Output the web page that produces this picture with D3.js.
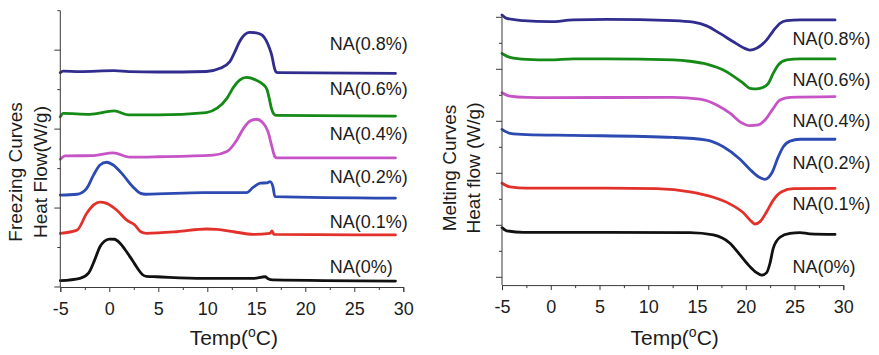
<!DOCTYPE html>
<html>
<head>
<meta charset="utf-8">
<script src="https://cdn.jsdelivr.net/npm/d3@7"></script>
<style>
  html, body { margin: 0; padding: 0; background: #fff; }
  svg { display: block; font-family: "Liberation Sans", Arial, Helvetica, sans-serif; }
</style>
</head>
<body>
<div id="chart"></div>
<script>
// DSC curves: [temperature °C, heat flow (arbitrary offset units)]
var seriesNames = ["NA(0.8%)", "NA(0.6%)", "NA(0.4%)", "NA(0.2%)", "NA(0.1%)", "NA(0%)"];
var seriesColors = ["#312d8f", "#158a17", "#c654c6", "#2c4ab2", "#e2312a", "#111111"];

var xTicksMajor = [-5, 0, 5, 10, 15, 20, 25, 30];
var xTicksMinor = [-2.5, 2.5, 7.5, 12.5, 17.5, 22.5, 27.5];

// Freezing curves (left)
var freezeNA08 = [[-5, 5.43], [-4.7, 5.47], [-3, 5.455], [0.5, 5.48], [2, 5.455], [5, 5.447], [9.9, 5.46],
  [11.3, 5.54], [12.3, 5.71], [12.8, 5.95], [13.3, 6.22], [13.8, 6.39], [14.3, 6.45], [15, 6.44],
  [15.6, 6.38], [16, 6.25], [16.3, 6.08], [16.6, 5.85], [16.8, 5.6], [17, 5.45], [17.2, 5.43], [29.2, 5.41]];
var freezeNA06 = [[-5, 4.31], [-4.7, 4.40], [-2, 4.375], [0.5, 4.46], [2, 4.36], [5, 4.36], [9.9, 4.42],
  [11, 4.53], [12, 4.78], [12.7, 5.07], [13.3, 5.24], [14, 5.31], [15, 5.24], [15.7, 5.13], [16.1, 5.0],
  [16.3, 4.8], [16.55, 4.52], [16.8, 4.38], [17, 4.35], [29.2, 4.33]];
var freezeNA04 = [[-5, 3.235], [-4.5, 3.32], [-1.6, 3.33], [0.4, 3.40], [2.1, 3.29], [5, 3.30], [10.6, 3.34],
  [12, 3.43], [13, 3.72], [13.7, 4.02], [14.4, 4.21], [15, 4.25], [15.7, 4.15], [16.2, 3.93],
  [16.6, 3.55], [16.9, 3.30], [17.1, 3.27], [29.2, 3.27]];
var freezeNA02 = [[-5, 2.33], [-3.3, 2.35], [-2.3, 2.50], [-1.6, 2.84], [-0.95, 3.09], [-0.27, 3.16],
  [0.4, 3.09], [1.4, 2.84], [2.4, 2.54], [3.2, 2.37], [3.7, 2.35], [9.6, 2.39], [14, 2.39], [14.7, 2.53],
  [15.4, 2.63], [16.1, 2.64], [16.4, 2.67], [16.7, 2.54], [16.9, 2.29], [29.2, 2.25]];
var freezeNA01 = [[-5, 1.36], [-3.3, 1.44], [-2.3, 1.87], [-1.6, 2.08], [-0.95, 2.15], [-0.27, 2.12],
  [0.75, 1.95], [1.75, 1.70], [2.6, 1.57], [3.2, 1.40], [3.8, 1.36], [6.9, 1.40], [9.9, 1.47],
  [11, 1.46], [12.7, 1.40], [14.7, 1.335], [16.4, 1.36], [16.6, 1.42], [16.8, 1.335], [29.2, 1.32]];
var freezeNA00 = [[-5, 0.16], [-3, 0.22], [-2.1, 0.36], [-1.5, 0.68], [-0.95, 1.02], [-0.5, 1.16],
  [0, 1.215], [0.5, 1.21], [1.1, 1.11], [1.6, 0.95], [2.1, 0.77], [2.6, 0.58], [3, 0.43], [3.4, 0.31],
  [3.8, 0.27], [4.8, 0.26], [9.6, 0.22], [14.7, 0.22], [15.9, 0.26], [16.2, 0.21], [16.7, 0.18], [29.2, 0.15]];
var freezeLabelLevels = [6.00, 4.86, 3.72, 2.63, 1.49, 0.35];

// Melting curves (right)
var meltNA08 = [[-5, 10.09], [-4.52, 9.96], [-2.81, 9.87], [-0.08, 9.83], [2.31, 9.90], [5.73, 9.92],
  [12.57, 9.87], [14.62, 9.81], [15.99, 9.67], [17.35, 9.38], [18.72, 9.06], [19.75, 8.83],
  [20.43, 8.74], [21.11, 8.81], [22.14, 9.13], [22.82, 9.48], [23.51, 9.77], [24.19, 9.87],
  [25.56, 9.90], [29.15, 9.90]];
var meltNA06 = [[-5, 8.61], [-4.18, 8.46], [-2.47, 8.38], [-0.08, 8.36], [2.31, 8.40], [5.73, 8.40],
  [12.57, 8.36], [14.28, 8.31], [15.99, 8.20], [17.7, 7.97], [18.72, 7.74], [19.75, 7.46],
  [20.43, 7.27], [21.11, 7.25], [21.8, 7.31], [22.31, 7.46], [22.82, 7.85], [23.34, 8.17],
  [24.19, 8.36], [25.56, 8.40], [29.15, 8.40]];
var meltNA04 = [[-5, 7.10], [-4.18, 6.97], [-2.47, 6.92], [-0.08, 6.91], [12.57, 6.92], [15.3, 6.85],
  [17.01, 6.63], [18.38, 6.31], [19.41, 5.98], [20.43, 5.83], [21.29, 5.86], [21.97, 6.05],
  [22.82, 6.50], [23.51, 6.82], [24.53, 6.92], [29.15, 6.95]];
var meltNA02 = [[-5, 5.69], [-4.18, 5.54], [-2.47, 5.49], [2.31, 5.46], [12.57, 5.38], [15.99, 5.28],
  [17.7, 5.02], [19.41, 4.54], [20.43, 4.15], [21.29, 3.87], [21.97, 3.77], [22.65, 4.00],
  [23.34, 4.64], [23.85, 5.02], [24.53, 5.24], [25.56, 5.31], [29.15, 5.31]];
var meltNA01 = [[-5, 3.62], [-4.18, 3.48], [-2.47, 3.43], [5.73, 3.43], [10.86, 3.41], [14.28, 3.29],
  [16.67, 3.08], [18.38, 2.82], [19.75, 2.48], [20.6, 2.14], [20.94, 2.05], [21.46, 2.14],
  [22.14, 2.52], [22.82, 2.97], [23.68, 3.29], [24.87, 3.41], [29.15, 3.42]];
var meltNA00 = [[-5, 1.91], [-4.52, 1.79], [-2.81, 1.73], [5.73, 1.73], [14.28, 1.72], [16.67, 1.63],
  [18.38, 1.31], [19.41, 0.86], [20.43, 0.41], [21.11, 0.18], [21.63, 0.08], [22.14, 0.18],
  [22.48, 0.54], [22.82, 1.12], [23.51, 1.54], [24.53, 1.69], [25.56, 1.72], [26.58, 1.67],
  [29.15, 1.65]];
var meltLabelLevels = [8.95, 7.36, 5.79, 4.15, 2.59, 0.15];

(function () {
  "use strict";

  var width = 879, height = 355;
  var svg = d3.select("#chart").append("svg")
    .attr("width", width)
    .attr("height", height);
  svg.append("rect").attr("width", width).attr("height", height).attr("fill", "#fff");

  var textColor = "#1c1c1c";
  var axisColor = "#3a3a3a";

  function drawPanel(cfg) {
    var x = d3.scaleLinear().domain([-5, 30]).range(cfg.xRange);
    var y = d3.scaleLinear().domain(cfg.yDomain).range(cfg.yRange);
    var g = svg.append("g");

    // Curves.
    var line = d3.line()
      .x(function (d) { return x(d[0]); })
      .y(function (d) { return y(d[1]); })
      .curve(d3.curveMonotoneX);
    cfg.series.forEach(function (s, i) {
      g.append("path")
        .datum(s)
        .attr("fill", "none")
        .attr("stroke", seriesColors[i])
        .attr("stroke-width", 2.8)
        .attr("stroke-linejoin", "round")
        .attr("stroke-linecap", "round")
        .attr("d", line);
    });

    // Series labels.
    g.selectAll("text.lbl")
      .data(seriesNames).enter().append("text")
      .attr("class", "lbl")
      .attr("x", x(cfg.labelT))
      .attr("y", function (d, i) { return y(cfg.labelLevels[i]); })
      .attr("fill", textColor)
      .attr("font-size", "18px")
      .text(function (d) { return d; });

    // X axis: major ticks with labels, minor ticks without.
    var xAxisY = y(cfg.yAxisExtent[0]);
    var xMajor = g.append("g")
      .attr("transform", "translate(0," + xAxisY + ")")
      .call(d3.axisBottom(x).tickValues(xTicksMajor).tickSize(5).tickPadding(10)
        .tickFormat(function (d) { return d < 0 ? "-" + Math.abs(d) : String(d); }));
    g.append("g")
      .attr("transform", "translate(0," + xAxisY + ")")
      .call(d3.axisBottom(x).tickValues(xTicksMinor).tickSize(3).tickFormat(""))
      .select(".domain").remove();
    xMajor.selectAll("text").attr("font-size", "18px").attr("fill", textColor)
      .attr("font-family", "Liberation Sans, Arial, sans-serif");

    // Y axis: unlabeled ticks, major on even values.
    var yTicks = d3.range(cfg.yTickMin, cfg.yTickMax + 1);
    var yG = g.append("g").attr("transform", "translate(" + x(-5) + ",0)");
    yG.append("line")
      .attr("x1", 0).attr("x2", 0)
      .attr("y1", y(cfg.yAxisExtent[0])).attr("y2", y(cfg.yAxisExtent[1]))
      .attr("stroke", axisColor);
    yG.selectAll("line.tk")
      .data(yTicks).enter().append("line")
      .attr("class", "tk")
      .attr("x1", 0)
      .attr("x2", function (d) { return d % 2 === 0 ? -6 : -3; })
      .attr("y1", function (d) { return y(d); })
      .attr("y2", function (d) { return y(d); })
      .attr("stroke", axisColor);

    g.selectAll(".domain, .tick line").attr("stroke", axisColor);

    // X title.
    var title = g.append("text")
      .attr("x", (cfg.xRange[0] + cfg.xRange[1]) / 2 + 2)
      .attr("y", cfg.xTitleY)
      .attr("text-anchor", "middle")
      .attr("fill", textColor)
      .attr("font-size", "21px");
    title.append("tspan").text("Temp(");
    title.append("tspan").attr("font-size", "14px").attr("dy", -8).text("o");
    title.append("tspan").attr("dy", 8).text("C)");

    // Y title (two rotated lines).
    cfg.yTitle.forEach(function (t, i) {
      g.append("text")
        .attr("transform", "translate(" + cfg.yTitleX[i] + "," + cfg.yTitleCenter + ") rotate(-90)")
        .attr("text-anchor", "middle")
        .attr("fill", textColor)
        .attr("font-size", "19px")
        .text(t);
    });
  }

  drawPanel({
    xRange: [60.3, 403.3],
    yDomain: [0, 7],
    yRange: [287, 10.7],
    yAxisExtent: [0, 7],
    yTickMin: 0, yTickMax: 7,
    series: [freezeNA08, freezeNA06, freezeNA04, freezeNA02, freezeNA01, freezeNA00],
    labelT: 22.5,
    labelLevels: freezeLabelLevels,
    xTitleY: 345,
    yTitle: ["Freezing Curves", "Heat Flow(W/g)"],
    yTitleX: [22, 47],
    yTitleCenter: 172
  });

  drawPanel({
    xRange: [502, 843.3],
    yDomain: [0, 10],
    yRange: [277.3, 17.3],
    yAxisExtent: [-0.3, 10.08],
    yTickMin: 0, yTickMax: 10,
    series: [meltNA08, meltNA06, meltNA04, meltNA02, meltNA01, meltNA00],
    labelT: 24.8,
    labelLevels: meltLabelLevels,
    xTitleY: 345,
    yTitle: ["Melting Curves", "Heat flow (W/g)"],
    yTitleX: [456, 480],
    yTitleCenter: 168
  });
})();
</script>
</body>
</html>
